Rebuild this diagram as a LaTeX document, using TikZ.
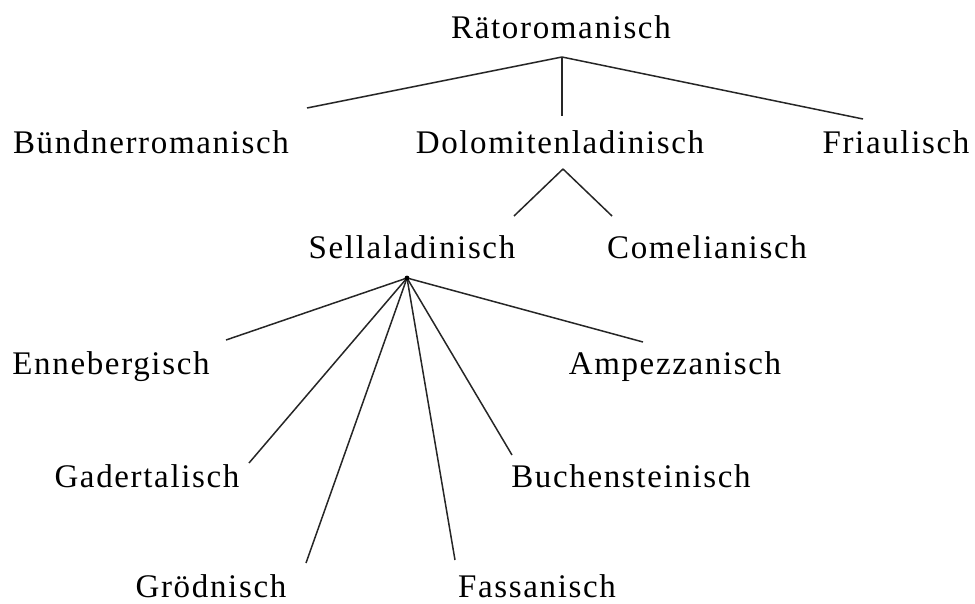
\documentclass[tikz,border=0pt]{standalone}
\usepackage{fontspec}
\setmainfont[LetterSpace=5]{Liberation Serif}
\usepackage{tikz}
\usetikzlibrary{positioning}
\tikzset{
  lang/.style={inner sep=0pt, anchor=base, font=\fontsize{33}{38}\selectfont},
  branch/.style={line width=1.5pt, draw=black!85},
}

\begin{document}
\begin{tikzpicture}[x=1pt,y=-1pt]
  \useasboundingbox (0,0) rectangle (975,603);
  % top level
  \node[lang] (RT) at (561,38)  {Rätoromanisch};
  \node[lang] (BR) at (151,153) {Bündnerromanisch};
  \node[lang] (DL) at (560,153) {Dolomitenladinisch};
  \node[lang] (FR) at (896,153) {Friaulisch};
  % second level
  \node[lang] (SL) at (412,258) {Sellaladinisch};
  \node[lang] (CO) at (707,258) {Comelianisch};
  % valleys
  \node[lang] (EN) at (111,374) {Ennebergisch};
  \node[lang] (AM) at (675,374) {Ampezzanisch};
  \node[lang] (GA) at (147,487) {Gadertalisch};
  \node[lang] (BU) at (631,487) {Buchensteinisch};
  \node[lang] (GR) at (211,597) {Grödnisch};
  \node[lang] (FA) at (537,597) {Fassanisch};
  % fork points
  \coordinate (RT-fork) at (562,57);
  \coordinate (DL-fork) at (563,169);
  \coordinate (SL-fork) at (407,278);
  % line ends
  \coordinate (BR-top) at (307,108);
  \coordinate (DL-top) at (562,116);
  \coordinate (FR-top) at (863,119);
  \coordinate (SL-top) at (514,216);
  \coordinate (CO-top) at (612,216);
  \coordinate (EN-top) at (226,340);
  \coordinate (AM-top) at (643,342);
  \coordinate (GA-top) at (249,463);
  \coordinate (BU-top) at (512,455);
  \coordinate (GR-top) at (306,563);
  \coordinate (FA-top) at (455,560);
  % Raetoromanisch
  \foreach \child in {BR,DL,FR}
    \draw[branch] (RT-fork) -- (\child-top);
  % Dolomitenladinisch
  \foreach \child in {SL,CO}
    \draw[branch] (DL-fork) -- (\child-top);
  % Sellaladinisch
  \foreach \child in {EN,AM,GA,BU,GR,FA}
    \draw[branch] (SL-fork) -- (\child-top);
  \fill (SL-fork) circle (2.4pt);
\end{tikzpicture}
\end{document}
